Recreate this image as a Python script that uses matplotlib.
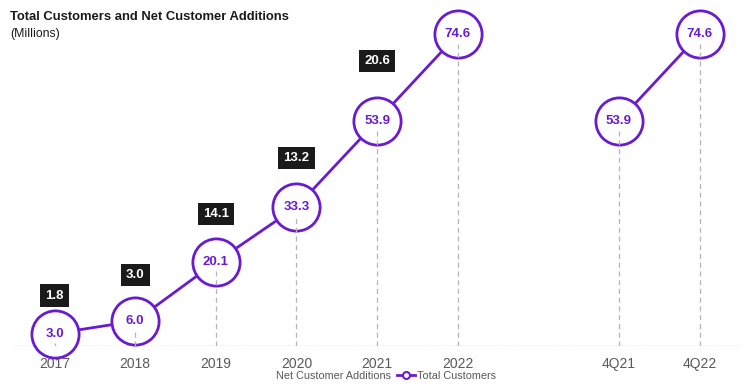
import matplotlib.pyplot as plt
from matplotlib.lines import Line2D
from matplotlib.patches import Patch

plt.rcParams['font.family'] = ['Liberation Sans', 'DejaVu Sans']

# data
years = ['2017', '2018', '2019', '2020', '2021', '2022']
total_years = [3.0, 6.0, 20.1, 33.3, 53.9, 74.6]
net_additions = [1.8, 3.0, 14.1, 13.2, 20.6]
quarters = ['4Q21', '4Q22']
total_quarters = [53.9, 74.6]

purple = '#6a1bd1'
grey = '#595959'

x_years = list(range(len(years)))
x_quarters = [len(years) + 1, len(years) + 2]

fig = plt.figure(figsize=(7.52, 3.92), dpi=100)
ax = fig.add_axes([0.019, 0.117, 0.965, 0.853])

# dashed guides from the baseline up to just below each label
for x, v in zip(x_years + x_quarters, total_years + total_quarters):
    ax.plot([x, x], [0, v - 2.2], color='#b5b5b5', lw=0.9, ls=(0, (4, 3)), zorder=4)

# line + circles
ax.plot(x_years, total_years, color=purple, lw=2, zorder=2)
ax.plot(x_quarters, total_quarters, color=purple, lw=2, zorder=2)
ax.plot(x_years + x_quarters, total_years + total_quarters, ls='none', marker='o',
        ms=34, mfc='white', mec=purple, mew=2.0, zorder=3, clip_on=False)

for x, v in zip(x_years + x_quarters, total_years + total_quarters):
    ax.text(x, v, f'{v:.1f}', ha='center', va='center', color=purple,
            fontsize=9.5, fontweight='bold', zorder=5)

# net additions boxes above the circles
box_offsets = [38, 46, 48, 49, 60]
for x, v, n, off in zip(x_years, total_years, net_additions, box_offsets):
    ax.annotate(f'{n:.1f}', (x, v), xytext=(0, off * 0.72), textcoords='offset points',
                ha='center', va='center', color='white', fontsize=9.5, fontweight='bold',
                bbox=dict(boxstyle='square,pad=0.4', fc='#1a1a1a', ec='none'), zorder=6)

ax.axhline(0, color='#c8c8c8', lw=1, ls=(0, (3, 1)), zorder=1)

ax.set_xlim(-0.5, 8.5)
ax.set_ylim(0, 80)
ax.set_xticks(x_years + x_quarters)
ax.set_xticklabels(years + quarters, color=grey, fontsize=10)
ax.tick_params(axis='x', length=0, pad=8)
ax.set_yticks([])
for s in ax.spines.values():
    s.set_visible(False)

fig.text(0.013, 0.95, 'Total Customers and Net Customer Additions', fontsize=9.4,
         fontweight='bold', color='#1a1a1a')
fig.text(0.013, 0.905, '(Millions)', fontsize=8.8, color='#1a1a1a')

handles = [Patch(facecolor='none', edgecolor='none'),
           Line2D([], [], color=purple, lw=2, marker='o', ms=5, mfc='white', mec=purple, mew=1.5)]
fig.legend(handles, ['Net Customer Additions', 'Total Customers'], loc='center',
           bbox_to_anchor=(0.5, 0.042), ncol=2, frameon=False, fontsize=7.8,
           handlelength=1.6, handletextpad=0.2, columnspacing=0.6, labelcolor=grey)

plt.savefig('out.png', dpi=100)
